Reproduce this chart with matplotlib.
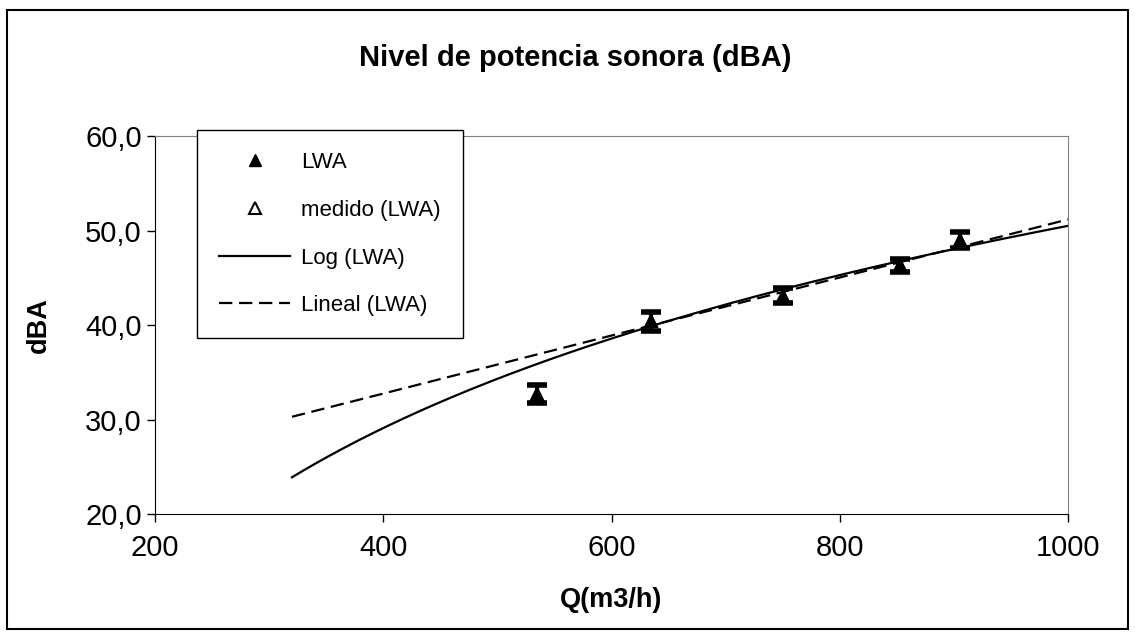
import numpy as np
import matplotlib
matplotlib.use("Agg")
import matplotlib.pyplot as plt
from matplotlib.lines import Line2D
from matplotlib.patches import Rectangle
from matplotlib.ticker import FuncFormatter

# measured points (Q m3/h, dBA)
q_points = [535, 635, 750, 853, 905]
lwa = [32.7, 40.4, 43.1, 46.3, 49.0]
medido = [32.7, 40.4, 43.1, 46.3, 49.0]
err = [1.0, 1.0, 0.8, 0.7, 0.8]

# trendline coefficients
log_a, log_b = 23.35, -110.8      # y = a*ln(x) + b
lin_m, lin_c = 0.0307, 20.47      # y = m*x + c
trend_range = (320, 1000)

plt.rcParams["font.family"] = ["Liberation Sans", "DejaVu Sans"]

fig = plt.figure(figsize=(11.35, 6.37), dpi=100)
ax = fig.add_axes([0.1366, 0.193, 0.8044, 0.5935])

fig.patches.append(Rectangle((0.006, 0.012), 0.988, 0.972, transform=fig.transFigure,
                             fill=False, edgecolor="black", linewidth=1.5))

xs = np.linspace(trend_range[0], trend_range[1], 200)
ax.plot(xs, log_a * np.log(xs) + log_b, color="black", lw=1.6)
ax.plot(xs, lin_m * xs + lin_c, color="black", lw=1.6, ls=(0, (6, 3)))

ax.plot(q_points, medido, ls="none", marker="^", ms=8, mfc="white", mec="black", mew=1.5)
ax.errorbar(q_points, lwa, yerr=err, fmt="^", ms=8, color="black", ecolor="black",
            elinewidth=3, capsize=7, capthick=4)

ax.set_xlim(200, 1000)
ax.set_ylim(20, 60)
ax.set_xticks([200, 400, 600, 800, 1000])
ax.set_yticks([20, 30, 40, 50, 60])
ax.yaxis.set_major_formatter(FuncFormatter(lambda v, p: f"{v:.1f}".replace(".", ",")))
ax.tick_params(labelsize=21, length=6, width=1, direction="out")
ax.tick_params(axis="x", pad=8)
for s in ["top", "right"]:
    ax.spines[s].set_color("#808080")
for s in ["left", "bottom"]:
    ax.spines[s].set_color("black")

ax.set_xlabel("Q(m3/h)", fontsize=19.5, fontweight="bold", labelpad=18)
ax.set_ylabel("dBA", fontsize=19.5, fontweight="bold", labelpad=24)
fig.text(0.507, 0.909, "Nivel de potencia sonora (dBA)", ha="center", va="center",
         fontsize=21, fontweight="bold")

handles = [
    Line2D([], [], ls="none", marker="^", ms=9, color="black"),
    Line2D([], [], ls="none", marker="^", ms=8, mfc="white", mec="black", mew=1.5),
    Line2D([], [], color="black", lw=1.6),
    Line2D([], [], color="black", lw=1.6, ls=(0, (6, 3))),
]
labels = ["LWA", "medido (LWA)", "Log (LWA)", "Lineal (LWA)"]
leg = ax.legend(handles, labels,
                loc="upper left", bbox_to_anchor=(0.1736, 0.796),
                bbox_transform=fig.transFigure, fontsize=16, frameon=True,
                fancybox=False, edgecolor="black", framealpha=1,
                labelspacing=1.2, handlelength=3.2, handletextpad=0.5,
                borderpad=1.0, borderaxespad=0)
leg.get_frame().set_linewidth(1.0)

fig.savefig("out.png", dpi=100)
